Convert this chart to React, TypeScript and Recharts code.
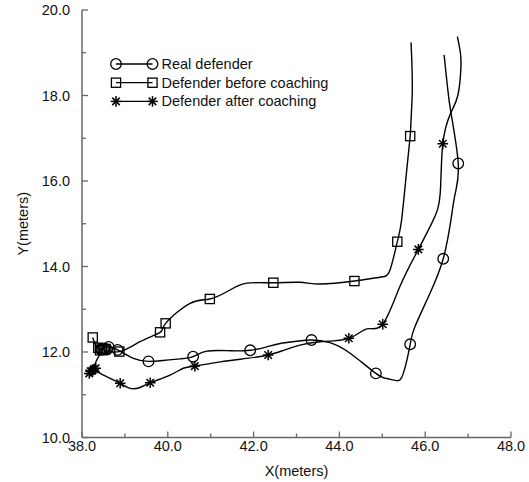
import React from 'react';
import { ComposedChart, Line, Scatter, XAxis, YAxis, Legend, Label } from 'recharts';

// axis ticks (majors get a label, odd ones are minor)
const xTicks = [38, 39, 40, 41, 42, 43, 44, 45, 46, 47, 48];
const yTicks = [10, 11, 12, 13, 14, 15, 16, 17, 18, 19, 20];

const seriesNames = ['Real defender', 'Defender before coaching', 'Defender after coaching'];

// Real defender: smooth path and the sampled markers
const realPath: [number, number][] = [
  [38.42, 12.06], [38.62, 12.12], [38.83, 12.05], [39.2, 11.85], [39.55, 11.78],
  [39.97, 11.81], [40.3, 11.84], [40.59, 11.89], [40.91, 12.02], [41.45, 12.03],
  [41.92, 12.04], [42.31, 12.12], [42.62, 12.2], [43.0, 12.25], [43.35, 12.28],
  [43.78, 12.22], [44.25, 11.97], [44.85, 11.5], [45.1, 11.38], [45.33, 11.33],
  [45.49, 11.5], [45.65, 12.18], [45.76, 12.59], [46.11, 13.37], [46.42, 14.18],
  [46.6, 15.09], [46.7, 15.71], [46.77, 16.41], [46.6, 17.6], [46.52, 18.2], [46.44, 18.95]
];
const realMarks: [number, number][] = [
  [38.45, 12.06], [38.52, 12.08], [38.58, 12.06], [38.62, 12.12], [38.83, 12.05],
  [39.55, 11.78], [40.59, 11.89], [41.92, 12.04], [43.35, 12.28], [44.85, 11.5],
  [45.65, 12.18], [46.42, 14.18], [46.77, 16.41]
];

// Defender before coaching
const beforePath: [number, number][] = [
  [38.25, 12.34], [38.32, 12.15], [38.45, 12.06], [38.87, 12.01], [39.35, 12.24],
  [39.82, 12.46], [39.95, 12.67], [40.52, 13.14], [40.98, 13.24], [41.45, 13.45],
  [41.84, 13.61], [42.46, 13.62], [43.08, 13.63], [43.55, 13.59], [44.35, 13.66],
  [44.95, 13.75], [45.18, 13.92], [45.35, 14.58], [45.45, 15.09], [45.57, 16.26],
  [45.65, 17.05], [45.67, 17.43], [45.7, 18.21], [45.67, 19.24]
];
const beforeMarks: [number, number][] = [
  [38.25, 12.34], [38.38, 12.1], [38.42, 12.04], [38.46, 12.08], [38.5, 12.05],
  [38.55, 12.07], [38.87, 12.01], [39.82, 12.46], [39.95, 12.67], [40.98, 13.24],
  [42.46, 13.62], [44.35, 13.66], [45.35, 14.58], [45.65, 17.05]
];

// Defender after coaching
const afterPath: [number, number][] = [
  [38.42, 11.95], [38.3, 11.62], [38.58, 11.42], [38.89, 11.27], [39.12, 11.15],
  [39.35, 11.17], [39.59, 11.28], [40.05, 11.46], [40.36, 11.62], [40.63, 11.67],
  [41.22, 11.77], [41.84, 11.85], [42.34, 11.93], [42.7, 12.04], [43.08, 12.16],
  [43.55, 12.24], [44.22, 12.32], [44.64, 12.54], [45.01, 12.65], [45.41, 13.53],
  [45.84, 14.4], [46.19, 15.09], [46.35, 15.71], [46.41, 16.87], [46.6, 17.6],
  [46.76, 18.0], [46.83, 18.6], [46.82, 19.0], [46.75, 19.38]
];
const afterMarks: [number, number][] = [
  [38.17, 11.5], [38.2, 11.55], [38.24, 11.56], [38.28, 11.6], [38.32, 11.62],
  [38.89, 11.27], [39.59, 11.28], [40.63, 11.67], [42.34, 11.93], [44.22, 12.32],
  [45.01, 12.65], [45.84, 14.4], [46.41, 16.87]
];

const toPts = (arr: [number, number][]) => arr.map(([x, y]) => ({ x, y }));

// the chart fills the whole 529x482 window, so drop the default body margin
if (typeof document !== 'undefined') {
  document.body.style.margin = '0';
  document.body.style.overflow = 'hidden';
}

const FONT = '"Liberation Sans", Arial, sans-serif';
const AXIS = '#666';
const INK = '#000';

const CircleMark = ({ cx, cy }: any) => (
  <circle cx={cx} cy={cy} r={5.3} fill="none" stroke={INK} strokeWidth={1.3} />
);
const SquareMark = ({ cx, cy }: any) => (
  <rect x={cx - 4.6} y={cy - 4.6} width={9.2} height={9.2} fill="none" stroke={INK} strokeWidth={1.3} />
);
const StarMark = ({ cx, cy }: any) => (
  <g stroke={INK} strokeWidth={1.5}>
    {[0, 45, 90, 135].map(a => {
      const r = 5.3;
      const dx = r * Math.cos((a * Math.PI) / 180);
      const dy = r * Math.sin((a * Math.PI) / 180);
      return <line key={a} x1={cx - dx} y1={cy - dy} x2={cx + dx} y2={cy + dy} />;
    })}
  </g>
);
const markShapes = [CircleMark, SquareMark, StarMark];

const tickText = (v: number) => v.toFixed(1);

const BottomTick = ({ x, y, payload }: any) => {
  const major = payload.value % 2 === 0;
  return (
    <g>
      <line x1={x} y1={y} x2={x} y2={y - (major ? 6 : 4)} stroke={AXIS} strokeWidth={1.3} />
      {major && (
        <text x={x} y={y + 13.5} textAnchor="middle" fontSize={14.5} fontFamily={FONT} fill="#111">
          {tickText(payload.value)}
        </text>
      )}
    </g>
  );
};

const LeftTick = ({ x, y, payload }: any) => {
  const major = payload.value % 2 === 0;
  return (
    <g>
      <line x1={x} y1={y} x2={x + (major ? 6 : 4)} y2={y} stroke={AXIS} strokeWidth={1.3} />
      {major && (
        <text x={x - 12} y={y + 5} textAnchor="end" fontSize={14.5} fontFamily={FONT} fill="#111">
          {tickText(payload.value)}
        </text>
      )}
    </g>
  );
};

const RightTick = ({ x, y, payload }: any) => {
  const major = payload.value % 2 === 0;
  return <line x1={x} y1={y} x2={x - (major ? 6 : 4)} y2={y} stroke={AXIS} strokeWidth={1.3} />;
};

const LegendBox = () => (
  <svg width={280} height={60} style={{ display: 'block' }}>
    {seriesNames.map((name, i) => {
      const cy = 10 + i * 18.7;
      const Mark = markShapes[i];
      return (
        <g key={name}>
          <line x1={10} y1={cy} x2={46.5} y2={cy} stroke={INK} strokeWidth={1.3} />
          <Mark cx={10} cy={cy} />
          <Mark cx={46.5} cy={cy} />
          <text x={55.5} y={cy + 5} fontSize={14.5} fontFamily={FONT} fill="#111">
            {name}
          </text>
        </g>
      );
    })}
  </svg>
);

export default function App() {
  const paths = [realPath, beforePath, afterPath];
  const marks = [realMarks, beforeMarks, afterMarks];

  return (
    <ComposedChart width={529} height={482} margin={{ top: 10, right: 18, bottom: 0, left: 0 }}>
      <XAxis
        dataKey="x"
        type="number"
        domain={[38, 48]}
        ticks={xTicks}
        interval={0}
        allowDataOverflow
        height={44.5}
        tickSize={0}
        tickMargin={0}
        tickLine={false}
        tick={BottomTick}
        axisLine={{ stroke: AXIS, strokeWidth: 1.5 }}
      >
        <Label
          value="X(meters)"
          position="insideBottom"
          offset={6.5}
          style={{ fontSize: 14.5, fontFamily: FONT, fill: '#111' }}
        />
      </XAxis>
      <XAxis
        xAxisId="top"
        orientation="top"
        type="number"
        domain={[38, 48]}
        allowDataOverflow
        height={0}
        tick={false}
        tickLine={false}
        axisLine={{ stroke: AXIS, strokeWidth: 1.5 }}
      />
      <YAxis
        dataKey="y"
        type="number"
        domain={[10, 20]}
        ticks={yTicks}
        interval={0}
        allowDataOverflow
        width={82}
        tickSize={0}
        tickMargin={0}
        tickLine={false}
        tick={LeftTick}
        axisLine={{ stroke: AXIS, strokeWidth: 1.5 }}
      >
        <Label
          value="Y(meters)"
          position="insideLeft"
          angle={-90}
          offset={23}
          style={{ fontSize: 14.5, fontFamily: FONT, fill: '#111', textAnchor: 'middle' }}
        />
      </YAxis>
      <YAxis
        yAxisId="right"
        orientation="right"
        type="number"
        domain={[10, 20]}
        ticks={yTicks}
        interval={0}
        allowDataOverflow
        width={0}
        tickSize={0}
        tickMargin={0}
        tickLine={false}
        tick={RightTick}
        axisLine={{ stroke: AXIS, strokeWidth: 1.5 }}
      />
      <Legend
        layout="vertical"
        align="center"
        verticalAlign="middle"
        content={LegendBox}
        wrapperStyle={{ left: 106, top: 54, width: 280, height: 60 }}
      />
      {paths.map((p, i) => (
        <Line
          key={`path-${i}`}
          data={toPts(p)}
          dataKey="y"
          type="natural"
          stroke={INK}
          strokeWidth={1.4}
          dot={false}
          activeDot={false}
          isAnimationActive={false}
        />
      ))}
      {marks.map((m, i) => (
        <Scatter
          key={`marks-${i}`}
          name={seriesNames[i]}
          data={toPts(m)}
          dataKey="y"
          shape={markShapes[i]}
          isAnimationActive={false}
        />
      ))}
    </ComposedChart>
  );
}
